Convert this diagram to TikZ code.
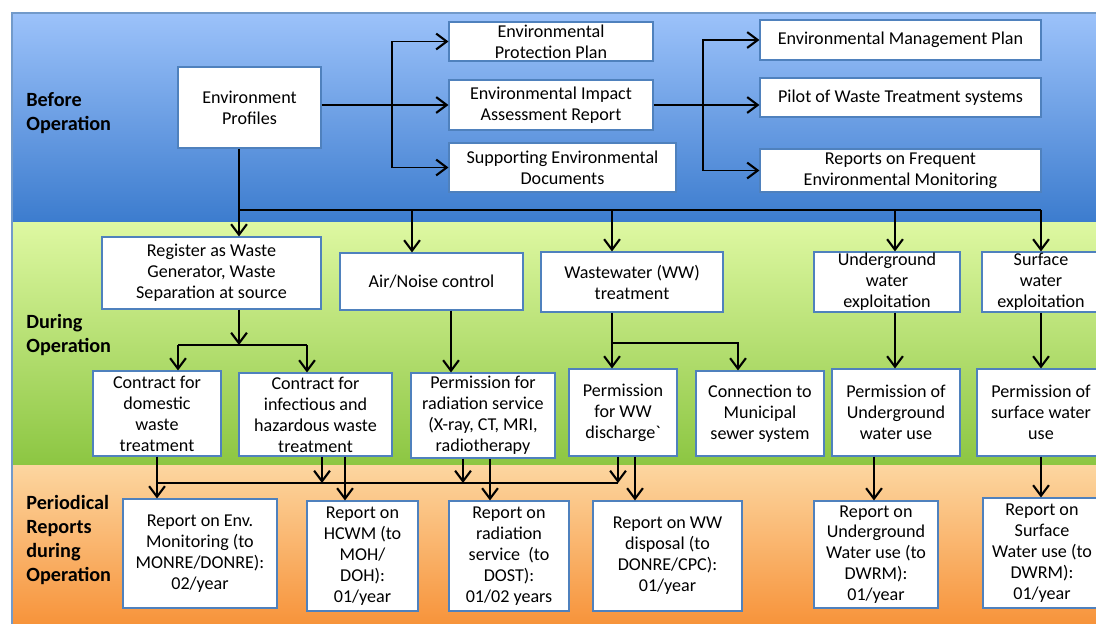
\documentclass[tikz,border=0pt]{standalone}
\usepackage{fontspec}
\setmainfont{Carlito}
\usetikzlibrary{arrows.meta,shadows}

\definecolor{boxblue}{RGB}{79,129,189}
\definecolor{blueTop}{RGB}{156,194,250}
\definecolor{blueBot}{RGB}{60,124,206}
\definecolor{greenTop}{RGB}{222,248,162}
\definecolor{greenBot}{RGB}{140,198,66}
\definecolor{orangeTop}{RGB}{252,214,160}
\definecolor{orangeBot}{RGB}{247,145,55}

\begin{document}
\begin{tikzpicture}[x=0.02cm, y=-0.02cm,
    box/.style={draw=boxblue, fill=white, line width=0.6pt, align=center,
        inner xsep=2pt, inner ysep=0pt, font=\fontsize{10.3}{11.9}\selectfont,
        drop shadow={opacity=0.25, shadow xshift=0.6pt, shadow yshift=-0.8pt}},
    sz/.style 2 args={minimum width=#1*0.02cm, minimum height=#2*0.02cm},
    phase/.style={anchor=west, align=left, inner sep=0pt, font=\fontsize{11.5}{13.6}\selectfont\bfseries},
    wire/.style={line width=1pt},
    arr/.style={wire, -{Straight Barb[length=6pt, width=9pt, line width=1.2pt]}}]

    \useasboundingbox (0,0) rectangle (1096,623);
    \clip (0,0) rectangle (1096,623);

    % bands
    \shade[top color=blueTop, bottom color=blueBot] (12,13) rectangle (1110,222);
    \shade[top color=greenTop, bottom color=greenBot] (12,222) rectangle (1110,465);
    \shade[top color=orangeTop, bottom color=orangeBot] (12,465) rectangle (1110,630);
    \draw[boxblue!80, line width=0.6pt] (12,13) rectangle (1110,630);

    % phase labels
    \node[phase] (lb) at (26,113) {Before\\Operation};
    \node[phase] (ld) at (26,335) {During\\Operation};
    \node[phase] (lp) at (26,540) {Periodical\\Reports\\during\\Operation};

    % nodes before operation
    \node[box, sz={143}{81}] (ep) at (249.5,107.5) {Environment\\Profiles};
    \node[box, sz={204}{39}] (epp) at (551,41.5) {Environmental\\Protection Plan};
    \node[box, sz={204}{50}] (eia) at (551,105) {Environmental Impact\\Assessment Report};
    \node[box, sz={227}{49}] (sed) at (562.5,167.5) {Supporting Environmental\\Documents};
    \node[box, sz={281}{40}] (emp) at (900.5,40) {Environmental Management Plan};
    \node[box, sz={281}{39}] (pil) at (900.5,97.5) {Pilot of Waste Treatment systems};
    \node[box, sz={281}{43}] (rfm) at (900.5,170.5) {Reports on Frequent\\Environmental Monitoring};

    % nodes during operation
    \node[box, sz={219}{72}] (reg) at (211.5,273) {Register as Waste\\Generator, Waste\\Separation at source};
    \node[box, sz={183}{57}] (air) at (431.5,281.5) {Air/Noise control};
    \node[box, sz={182}{60}] (ww) at (632,282) {Wastewater (WW)\\treatment};
    \node[box, sz={146}{60}] (ugx) at (887,282) {Underground\\water\\exploitation};
    \node[box, sz={118}{60}] (sfx) at (1041,282) {Surface\\water\\exploitation};

    \node[box, sz={128}{85}] (cdw) at (157,413.5) {Contract for\\domestic\\waste\\treatment};
    \node[box, sz={153}{83}] (chw) at (315.5,414.5) {Contract for\\infectious and\\hazardous waste\\treatment};
    \node[box, sz={144}{85}] (prs) at (483,415.5) {Permission for\\radiation service\\(X-ray, CT, MRI,\\radiotherapy};
    \node[box, sz={108}{87}] (pwd) at (623,412.5) {Permission\\for WW\\discharge\textasciigrave};
    \node[box, sz={128}{85}] (cms) at (760,413.5) {Connection to\\Municipal\\sewer system};
    \node[box, sz={128}{87}] (puw) at (896,412.5) {Permission of\\Underground\\water use};
    \node[box, sz={128}{87}] (psw) at (1041,412.5) {Permission of\\surface water\\use};

    % nodes periodical reports
    \node[box, sz={154}{109}] (rem) at (200,553.5) {Report on Env.\\Monitoring (to\\MONRE/DONRE):\\02/year};
    \node[box, sz={111}{110}] (rhc) at (362.5,556) {Report on\\HCWM (to\\MOH/\\DOH):\\01/year};
    \node[box, sz={120}{110}] (rrs) at (509,556) {Report on\\radiation\\service\ \ (to\\DOST):\\01/02 years};
    \node[box, sz={149}{110}] (rwd) at (667.5,556) {Report on WW\\disposal (to\\DONRE/CPC):\\01/year};
    \node[box, sz={124}{107}] (rug) at (876,554.5) {Report on\\Underground\\Water use (to\\DWRM):\\01/year};
    \node[box, sz={118}{110}] (rsw) at (1042,553) {Report on\\Surface\\Water use (to\\DWRM):\\01/year};

    % junctions
    \coordinate (bl) at (392,105);
    \coordinate (br) at (703,105);
    \coordinate (t0) at (239,210);
    \coordinate (t1) at (412,210);
    \coordinate (t2) at (612,210);
    \coordinate (t3) at (895,210);
    \coordinate (t4) at (1041,210);
    \coordinate (rj) at (239,345);
    \coordinate (r1) at (178,345);
    \coordinate (r2) at (307,345);
    \coordinate (ax) at (451,345);
    \coordinate (wj) at (612,343);
    \coordinate (w2) at (738,343);
    \coordinate (h0) at (157,483);
    \coordinate (h1) at (322,483);
    \coordinate (h2) at (463,483);
    \coordinate (h3) at (618,483);
    \coordinate (d1) at (345,483);
    \coordinate (d2) at (490,483);
    \coordinate (d3) at (635,483);
    \coordinate (d4) at (874,483);

    % paths
    \draw[arr] (ep.east |- eia) -- (eia); % Profiles -> EIA
    \draw[arr] (bl) |- (epp); % Profiles -> Protection Plan
    \draw[arr] (bl) |- (sed); % Profiles -> Supporting Docs
    \draw[arr] (eia) -- (pil.west |- eia); % EIA -> Pilot
    \draw[arr] (br) |- (emp); % EIA -> Management Plan
    \draw[arr] (br) |- (rfm); % EIA -> Frequent Monitoring

    \draw[wire] (t0 |- ep.south) -- (t0) -- (t4); % Profiles -> bus
    \draw[arr] (t0) -- (t0 |- reg.north); % bus -> Register
    \draw[arr] (t1) -- (t1 |- air.north); % bus -> Air/Noise
    \draw[arr] (t2) -- (t2 |- ww.north); % bus -> Wastewater
    \draw[arr] (t3) -- (t3 |- ugx.north); % bus -> Underground
    \draw[arr] (t4) -- (t4 |- sfx.north); % bus -> Surface

    \draw[arr] (rj |- reg.south) -- (rj); % Register -> split
    \draw[wire] (r1) -- (r2);
    \draw[arr] (r1) -- (r1 |- cdw.north); % split -> domestic
    \draw[arr] (r2) -- (r2 |- chw.north); % split -> hazardous
    \draw[arr] (ax |- air.south) -- (ax |- prs.north); % Air/Noise -> radiation
    \draw[arr] (wj |- ww.south) -- (wj |- pwd.north); % Wastewater -> WW discharge
    \draw[arr] (wj) -- (w2) -- (w2 |- cms.north); % Wastewater -> sewer
    \draw[arr] (ugx.south -| t3) -- (puw.north -| t3); % Underground -> permission
    \draw[arr] (sfx.south -| t4) -- (psw.north -| t4); % Surface -> permission

    \draw[wire] (h0) -- (h3); % report line
    \draw[arr] (cdw.south) -- (cdw.south |- rem.north); % domestic -> Env. report
    \draw[arr] (h1 |- chw.south) -- (h1); % hazardous -> report line
    \draw[arr] (h2 |- prs.south) -- (h2); % radiation -> report line
    \draw[arr] (h3 |- pwd.south) -- (h3); % WW discharge -> report line
    \draw[arr] (d1 |- chw.south) -- (d1 |- rhc.north); % hazardous -> HCWM report
    \draw[arr] (d2 |- prs.south) -- (d2 |- rrs.north); % radiation -> radiation report
    \draw[arr] (d3 |- pwd.south) -- (d3 |- rwd.north); % WW discharge -> WW report
    \draw[arr] (d4 |- puw.south) -- (d4 |- rug.north); % Underground -> report
    \draw[arr] (t4 |- psw.south) -- (t4 |- rsw.north); % Surface -> report

\end{tikzpicture}
\end{document}
